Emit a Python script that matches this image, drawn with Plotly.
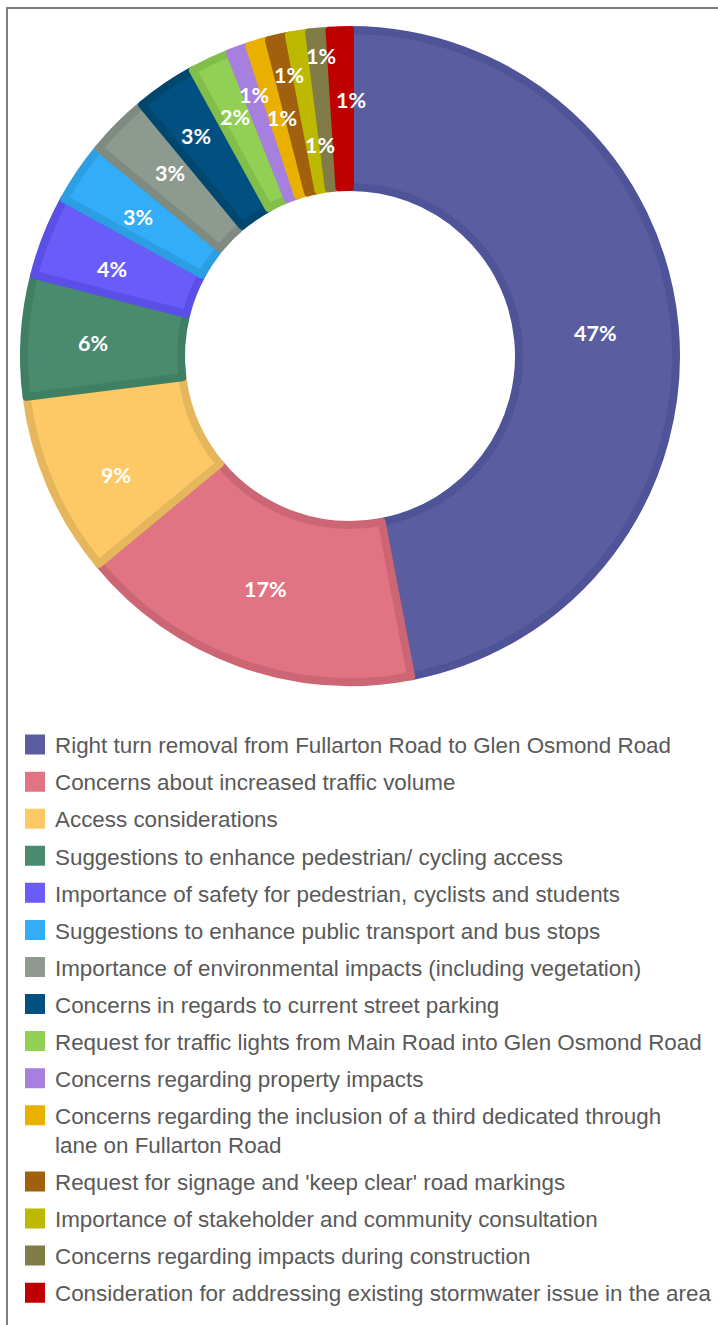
import math
import plotly.graph_objects as go

# ---------------- data ----------------
categories = [
    "Right turn removal from Fullarton Road to Glen Osmond Road",
    "Concerns about increased traffic volume",
    "Access considerations",
    "Suggestions to enhance pedestrian/ cycling access",
    "Importance of safety for pedestrian, cyclists and students",
    "Suggestions to enhance public transport and bus stops",
    "Importance of environmental impacts (including vegetation)",
    "Concerns in regards to current street parking",
    "Request for traffic lights from Main Road into Glen Osmond Road",
    "Concerns regarding property impacts",
    "Concerns regarding the inclusion of a third dedicated through<br>lane on Fullarton Road",
    "Request for signage and 'keep clear' road markings",
    "Importance of stakeholder and community consultation",
    "Concerns regarding impacts during construction",
    "Consideration for addressing existing stormwater issue in the area",
]
values = [47, 17, 9, 6, 4, 3, 3, 3, 2, 1, 1, 1, 1, 1, 1]

# ---------------- styles ----------------
fill_colors = ["#5A5EA0", "#E07482", "#FDC967", "#4A8B6F", "#695CF9", "#33ADF7",
               "#8E9A8F", "#025082", "#91CF55", "#A77FDE", "#E9B000", "#A0600D",
               "#BDB800", "#817B47", "#C00000"]
edge_colors = ["#4F5397", "#CC6674", "#E6B65C", "#3F7F63", "#5A50E8", "#2C9EE3",
               "#7F8B80", "#00476F", "#82BE4A", "#A77FDE", "#E9B000", "#A0600D",
               "#BDB800", "#817B47", "#C00000"]
label_radius_px = [247, 248, 262, 257, 253, 253, 257, 268, 265, 278, 248, 288, 213, 301, 256]
label_angle_nudge = [0, 0, -3.5, -0.7, -1.5, -1.0, 0.5, -0.8, -0.5, -0.4, 0.2, 0.4, 0.9, -0.1, 2.0]

W, H = 718, 1325
CX, CY, R = 350, 356, 326      # pie centre and radius in pixels
EDGE_W = 8

fig = go.Figure()

fig.add_trace(go.Pie(
    labels=categories,
    values=values,
    sort=False,
    direction="clockwise",
    rotation=0,
    hole=(165 + EDGE_W / 2) / R,
    marker=dict(colors=fill_colors, line=dict(color=edge_colors, width=EDGE_W)),
    textinfo="none",
    hoverinfo="label+percent",
    showlegend=False,
    domain=dict(x=[(CX - R) / W, (CX + R) / W], y=[1 - (CY + R) / H, 1 - (CY - R) / H]),
))

# percentage labels, placed at each slice's angular midpoint
total = sum(values)
cum = 0
for v, rpx, nudge in zip(values, label_radius_px, label_angle_nudge):
    mid = (cum + v / 2) / total * 360 + nudge
    cum += v
    a = math.radians(mid)
    px = CX + rpx * math.sin(a)
    py = CY - rpx * math.cos(a)
    fig.add_annotation(
        x=px / W, y=1 - py / H, xref="paper", yref="paper",
        text=f"{round(v / total * 100)}%", showarrow=False,
        font=dict(family="Lato, Open Sans, sans-serif", size=21.5, color="white", weight="bold"),
        xanchor="center", yanchor="middle",
    )

# legend entries (one per category, matching slice colours)
for i, (cat, col) in enumerate(zip(categories, fill_colors)):
    fig.add_trace(go.Scatter(
        x=[None], y=[None], mode="markers", name=cat,
        marker=dict(symbol="square", size=16, color=col, line=dict(color=col, width=4)),
        legendgroup=f"g{i}", showlegend=True, hoverinfo="skip",
    ))

# frame lines (top and left)
fig.add_shape(type="line", xref="paper", yref="paper",
              x0=6 / W, x1=1, y0=1 - 8 / H, y1=1 - 8 / H,
              line=dict(color="#7F7F7F", width=2))
fig.add_shape(type="line", xref="paper", yref="paper",
              x0=7 / W, x1=7 / W, y0=0, y1=1 - 7 / H,
              line=dict(color="#7F7F7F", width=2))

fig.update_layout(
    width=W, height=H,
    margin=dict(l=0, r=0, t=0, b=0),
    paper_bgcolor="white", plot_bgcolor="white",
    xaxis=dict(visible=False), yaxis=dict(visible=False),
    showlegend=True,
    legend=dict(
        x=15 / W, y=1 - 723.5 / H, xanchor="left", yanchor="top",
        orientation="v", traceorder="grouped", tracegroupgap=4.95,
        valign="top",
        font=dict(family="Liberation Sans, Arial, sans-serif", size=22.4, color="#595959"),
        bgcolor="rgba(0,0,0,0)",
    ),
)

fig.write_html("out.html", config={"displayModeBar": False},
               post_script="document.body.style.margin='0px';")
